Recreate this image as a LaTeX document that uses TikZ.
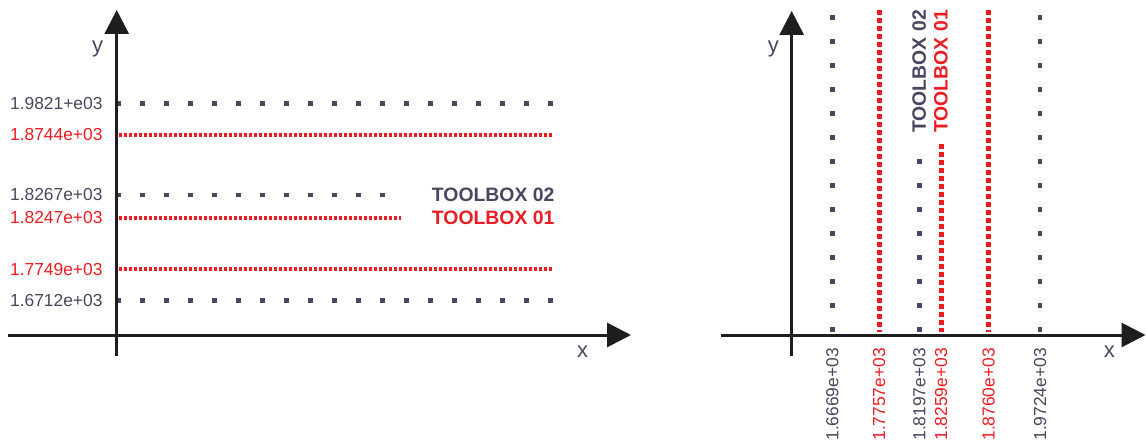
\documentclass[tikz,border=0pt]{standalone}
\usepackage{fontspec}
\setmainfont{Liberation Sans}
\usetikzlibrary{arrows.meta}
\definecolor{tgray}{HTML}{474760}
\definecolor{tred}{HTML}{ED1C24}
\definecolor{axiscol}{HTML}{1E1E1E}
\begin{document}
\begin{tikzpicture}[x=1pt,y=-1pt,
  axisline/.style={line width=3pt, draw=axiscol, -{Triangle[length=24pt,width=24pt]}},
  gdots/.style={draw=tgray, line width=4.5pt, dash pattern=on 4.5pt off 19.5pt},
  rdash/.style={draw=tred, line width=4pt, dash pattern=on 3.5pt off 1.5pt},
  rdashv/.style={draw=tred, line width=5pt, dash pattern=on 5pt off 3pt},
  lab/.style={font=\fontsize{17.4}{17.4}\selectfont, inner sep=0pt},
  tb/.style={font=\fontsize{19.4}{19.4}\selectfont\bfseries, inner sep=0pt},
  axl/.style={font=\fontsize{22}{22}\selectfont, text=tgray, inner sep=0pt}]
\useasboundingbox (0,0) rectangle (1146,441);

% ---------- left panel ----------
\draw[gdots] (116.35,103.3) -- (555,103.3);
\draw[rdash] (118.6,135) -- (553,135);
\draw[gdots] (116.35,195) -- (386,195);
\draw[rdash] (118.6,217.7) -- (401,217.7);
\draw[rdash] (118.6,269.3) -- (553,269.3);
\draw[gdots] (116.35,300.7) -- (555,300.7);

\node[lab, text=tgray, anchor=east] (l1) at (102.7,103.3) {1.9821+e03};
\node[lab, text=tred, anchor=east] (l2) at (102.7,135) {1.8744e+03};
\node[lab, text=tgray, anchor=east] (l3) at (102.7,195) {1.8267e+03};
\node[lab, text=tred, anchor=east] (l4) at (102.7,217.7) {1.8247e+03};
\node[lab, text=tred, anchor=east] (l5) at (102.7,269.3) {1.7749e+03};
\node[lab, text=tgray, anchor=east] (l6) at (102.7,300.7) {1.6712e+03};

\node[tb, text=tgray, anchor=west] (tb2) at (431.7,195) {TOOLBOX 02};
\node[tb, text=tred, anchor=west] (tb1) at (431.7,217.7) {TOOLBOX 01};

\coordinate (Lyb) at (116.7,356);
\coordinate (Lyt) at (116.7,10);
\coordinate (Lxl) at (8,335);
\coordinate (Lxr) at (631,335);
\draw[axisline] (Lyb) -- (Lyt);
\draw[axisline] (Lxl) -- (Lxr);
\node[axl] (ly) at (97.6,49) {y};
\node[axl] (lx) at (582.7,352) {x};

% ---------- right panel ----------
\draw[gdots] (832.3,15.05) -- (832.3,332);
\draw[rdashv] (879,10) -- (879,332);
\draw[gdots] (919.3,159.05) -- (919.3,332);
\draw[rdashv] (941,144) -- (941,332);
\draw[rdashv] (988.7,10) -- (988.7,332);
\draw[gdots] (1040,15.05) -- (1040,332);

\node[tb, text=tgray, rotate=90, anchor=east] (rtb2) at (919.3,10) {TOOLBOX 02};
\node[tb, text=tred, rotate=90, anchor=east] (rtb1) at (941,10) {TOOLBOX 01};

\node[lab, text=tgray, rotate=90, anchor=east] (b1) at (832.3,348) {1.6669e+03};
\node[lab, text=tred, rotate=90, anchor=east] (b2) at (879,348) {1.7757e+03};
\node[lab, text=tgray, rotate=90, anchor=east] (b3) at (919.3,348) {1.8197e+03};
\node[lab, text=tred, rotate=90, anchor=east] (b4) at (941,348) {1.8259e+03};
\node[lab, text=tred, rotate=90, anchor=east] (b5) at (988.7,348) {1.8760e+03};
\node[lab, text=tgray, rotate=90, anchor=east] (b6) at (1040,348) {1.9724e+03};

\coordinate (Ryb) at (791.7,356);
\coordinate (Ryt) at (791.7,11);
\coordinate (Rxl) at (720.7,335);
\coordinate (Rxr) at (1145.5,335);
\draw[axisline] (Ryb) -- (Ryt);
\draw[axisline] (Rxl) -- (Rxr);
\node[axl] (ry) at (773.3,49) {y};
\node[axl] (rx) at (1109.3,352) {x};
\end{tikzpicture}
\end{document}
